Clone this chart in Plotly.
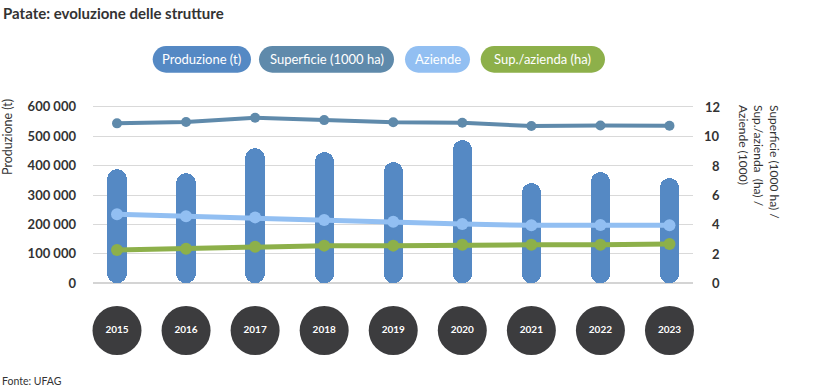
import plotly.graph_objects as go

years = ["2015", "2016", "2017", "2018", "2019", "2020", "2021", "2022", "2023"]
produzione = [387000, 374000, 458000, 445000, 411000, 487000, 340000, 379000, 357000]
superficie = [10.87, 10.96, 11.25, 11.09, 10.94, 10.91, 10.69, 10.73, 10.71]
aziende = [4.69, 4.55, 4.48, 4.30, 4.19, 4.03, 3.94, 3.96, 3.94]
sup_azienda = [2.26, 2.35, 2.49, 2.56, 2.56, 2.62, 2.62, 2.62, 2.67]
left_ticks = [0, 100000, 200000, 300000, 400000, 500000, 600000]
left_labels = ["0", "100 000", "200 000", "300 000", "400 000", "500 000", "600 000"]
right_ticks = [0, 2, 4, 6, 8, 10, 12]
series_names = ["Produzione (t)", "Superficie (1000 ha)", "Aziende", "Sup./azienda (ha)"]

C_BAR = "#5589c4"
C_SUP = "#5f8aab"
C_AZ = "#92bff2"
C_SA = "#8db04a"
C_DARK = "#3c3c3e"
FONT = "Lato"

W, H = 836, 388
ML, MR, MT, MB = 93, 143, 100, 28
PW, PH = W - ML - MR, H - MT - MB

def px2paper(x, y):
    return (x - ML) / PW, (H - MB - y) / PH

idx = list(range(len(years)))

fig = go.Figure()
fig.add_trace(go.Bar(x=idx, y=produzione, base=[0] * len(produzione), width=0.28,
                     marker_color=C_BAR, marker_line_width=0, showlegend=False,
                     name=series_names[0]))
fig.add_trace(go.Scatter(x=idx, y=superficie, yaxis="y2", mode="lines+markers",
                         line=dict(color=C_SUP, width=4), marker=dict(size=10, color=C_SUP),
                         name=series_names[1], showlegend=False, cliponaxis=False))
fig.add_trace(go.Scatter(x=idx, y=aziende, yaxis="y2", mode="lines+markers",
                         line=dict(color=C_AZ, width=5), marker=dict(size=12, color=C_AZ),
                         name=series_names[2], showlegend=False, cliponaxis=False))
fig.add_trace(go.Scatter(x=idx, y=sup_azienda, yaxis="y2", mode="lines+markers",
                         line=dict(color=C_SA, width=5), marker=dict(size=12, color=C_SA),
                         name=series_names[3], showlegend=False, cliponaxis=False))
fig.add_trace(go.Scatter(x=idx, y=[0.5] * len(years), yaxis="y3", mode="markers+text",
                         marker=dict(size=49, color=C_DARK), text=years,
                         textfont=dict(family=FONT, size=10, color="white", weight="bold"),
                         textposition="middle center", showlegend=False, hoverinfo="skip",
                         cliponaxis=False))

d0 = px2paper(0, 283.3)[1]
d1 = px2paper(0, 103.2)[1]
c3 = px2paper(0, 330.5)[1]

annotations = []
shapes = []

# right tick labels, right-aligned
for t in right_ticks:
    annotations.append(dict(x=px2paper(722, 0)[0], xref="paper", y=t, yref="y2",
                            text=str(t), showarrow=False, xanchor="right", yanchor="middle",
                            font=dict(family=FONT, size=13, color="#333333", weight="bold")))

# legend pills
pills = [(152.7, 251, C_BAR), (259, 394, C_SUP), (405, 470, C_AZ), (480.7, 605, C_SA)]
yt, yb = 46, 72.7
r = (yb - yt) / 2
k = 0.5523

def P(x, y):
    a, b = px2paper(x, y)
    return f"{a:.5f},{b:.5f}"

for (x0, x1, col), name in zip(pills, series_names):
    ym = (yt + yb) / 2
    path = (f"M {P(x0 + r, yt)} L {P(x1 - r, yt)} "
            f"C {P(x1 - r + k * r, yt)} {P(x1, ym - k * r)} {P(x1, ym)} "
            f"C {P(x1, ym + k * r)} {P(x1 - r + k * r, yb)} {P(x1 - r, yb)} "
            f"L {P(x0 + r, yb)} "
            f"C {P(x0 + r - k * r, yb)} {P(x0, ym + k * r)} {P(x0, ym)} "
            f"C {P(x0, ym - k * r)} {P(x0 + r - k * r, yt)} {P(x0 + r, yt)} Z")
    shapes.append(dict(type="path", path=path, xref="paper", yref="paper",
                       fillcolor=col, line_width=0, layer="above"))
    cx, cy = px2paper((x0 + x1) / 2, ym)
    annotations.append(dict(x=cx, y=cy, xref="paper", yref="paper", text=name,
                            showarrow=False, xanchor="center", yanchor="middle",
                            font=dict(family=FONT, size=13, color="white")))

# title
annotations.append(dict(x=px2paper(1, 0)[0], y=px2paper(0, 2)[1], xref="paper", yref="paper",
                        text="<b>Patate: evoluzione delle strutture</b>",
                        showarrow=False, xanchor="left", yanchor="top",
                        font=dict(family=FONT, size=15, color="#333333")))
# source
annotations.append(dict(x=px2paper(0, 0)[0], y=px2paper(0, 381)[1], xref="paper", yref="paper",
                        text="Fonte: UFAG", showarrow=False, xanchor="left", yanchor="middle",
                        font=dict(family=FONT, size=10.5, color="#333333")))
# left axis title
annotations.append(dict(x=px2paper(7, 0)[0], y=px2paper(0, 97)[1], xref="paper", yref="paper",
                        text="Produzione (t)", textangle=-90, showarrow=False,
                        xanchor="center", yanchor="top",
                        font=dict(family=FONT, size=12.5, color="#333333")))
# right axis title
annotations.append(dict(x=px2paper(759, 0)[0], y=px2paper(0, 103)[1], xref="paper", yref="paper",
                        text="Superficie (1000 ha) /<br>Sup./azienda  (ha) /<br>Aziende (1000)",
                        textangle=90, showarrow=False, align="left",
                        xanchor="center", yanchor="top",
                        font=dict(family=FONT, size=12, color="#333333")))

fig.update_layout(
    width=W, height=H, margin=dict(l=ML, r=MR, t=MT, b=MB),
    paper_bgcolor="white", plot_bgcolor="white",
    barmode="overlay", barcornerradius="50%", bargap=0,
    font=dict(family=FONT, color="#333333"),
    xaxis=dict(range=[-0.3475, 8.3405], showgrid=False, zeroline=False,
               showticklabels=False, ticks="", showline=False, fixedrange=True),
    yaxis=dict(domain=[d0, d1], range=[0, 612000], tickvals=left_ticks, ticktext=left_labels,
               showgrid=True, gridcolor="#d9d9d9", gridwidth=1, zeroline=True,
               zerolinecolor="#d4d4d4", zerolinewidth=2, ticks="", ticklabelstandoff=16,
               tickfont=dict(family=FONT, size=13, color="#333333", weight="bold"),
               showline=False),
    yaxis2=dict(domain=[d0, d1], range=[0, 12.24], overlaying="y", side="right",
                showgrid=False, zeroline=False, showticklabels=False, tickvals=right_ticks),
    yaxis3=dict(domain=[0, 2 * c3], range=[0, 1], visible=False),
    annotations=annotations, shapes=shapes,
)

fig.write_html("out.html", config={"displayModeBar": False},
               post_script="document.body.style.margin='0';")
